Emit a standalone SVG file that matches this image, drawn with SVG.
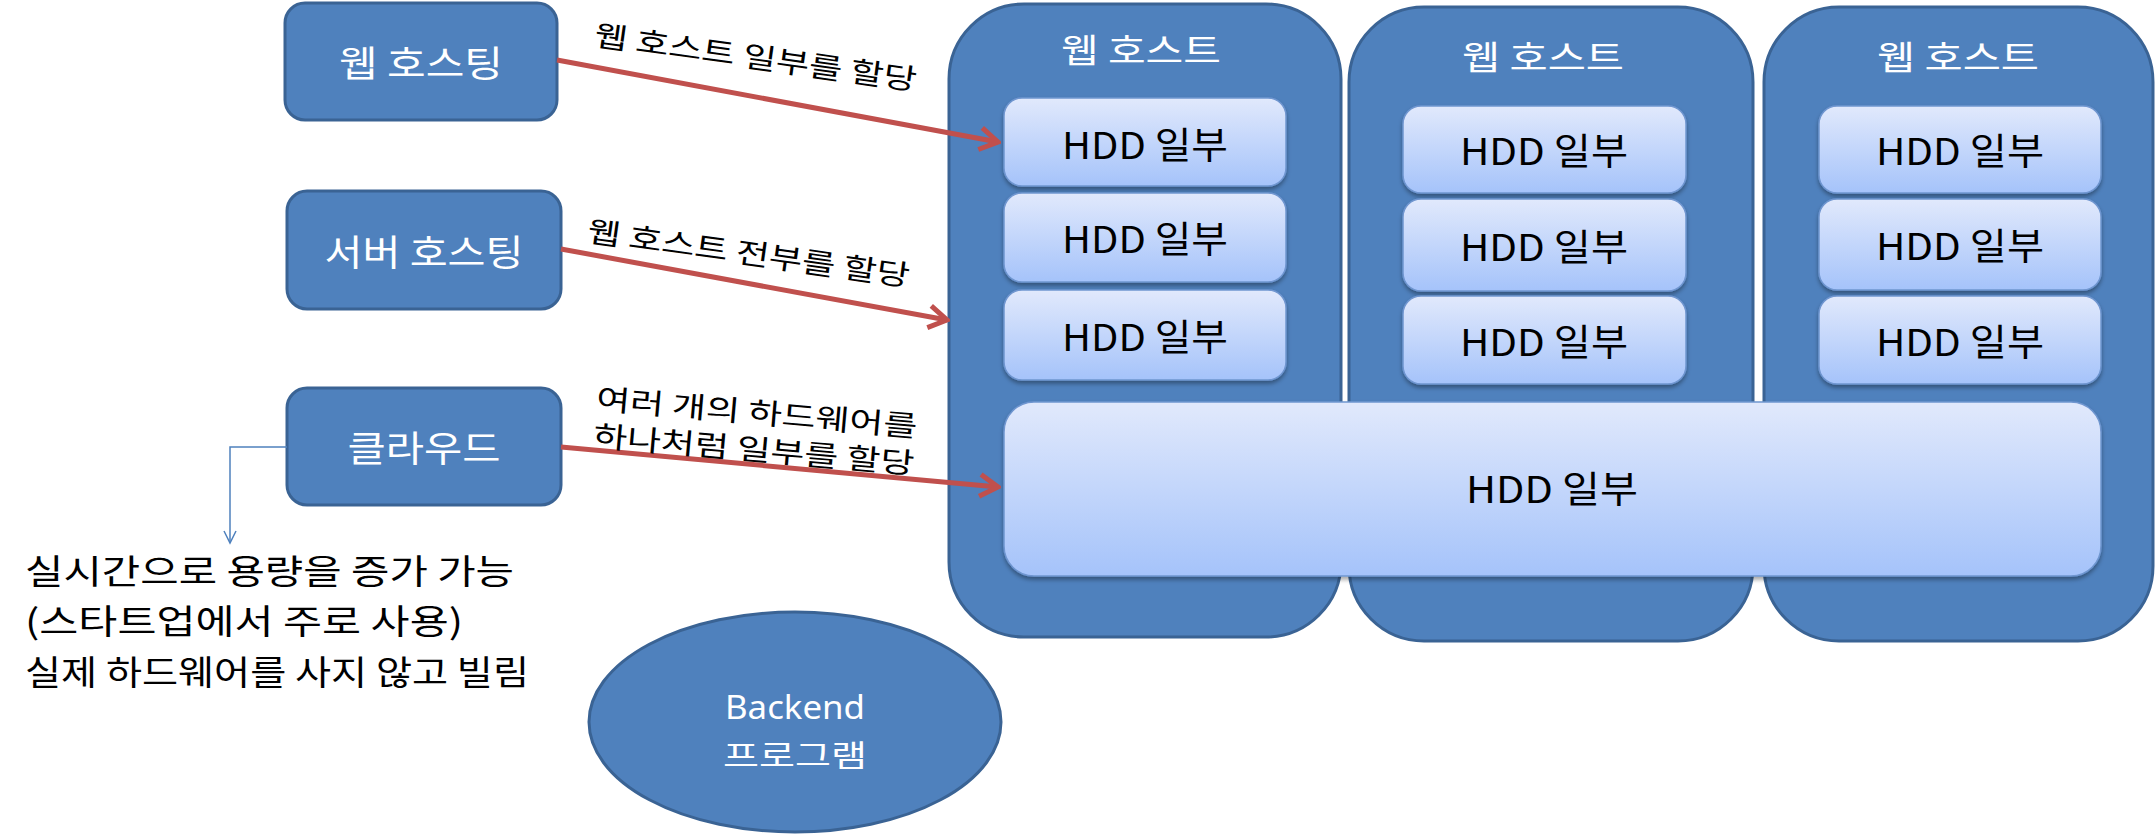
<svg xmlns="http://www.w3.org/2000/svg" width="2156" height="836" viewBox="0 0 2156 836">
<style>
.node{fill:#4F81BD;stroke:#3A6394;stroke-width:3}
.cont{fill:#4F81BD;stroke:#3A6394;stroke-width:3}
.hdd{fill:url(#g);stroke:#6F96D0;stroke-width:1.5}
.wt{fill:#fff;font-family:"Noto Sans CJK KR","Noto Sans",sans-serif;text-anchor:middle;dominant-baseline:central}
.bt{fill:#000;font-family:"Noto Sans CJK KR","Noto Sans",sans-serif;text-anchor:middle;dominant-baseline:central}
.ht{fill:#000;font-family:"Noto Sans CJK KR","Noto Sans",sans-serif;text-anchor:middle;dominant-baseline:central;font-size:37px}
.lt{fill:#000;font-family:"Noto Sans CJK KR","Noto Sans",sans-serif}
.red{stroke:#C0504D;stroke-width:5;fill:none}
</style>
<defs>
<linearGradient id="g" x1="0" y1="0" x2="0" y2="1">
<stop offset="0" stop-color="#E1E9FC"/>
<stop offset="1" stop-color="#A5C3FA"/>
</linearGradient>
<filter id="sh" x="-10%" y="-10%" width="120%" height="130%">
<feDropShadow dx="0" dy="3" stdDeviation="2" flood-color="#000" flood-opacity="0.35"/>
</filter>
<marker id="ra" markerUnits="userSpaceOnUse" markerWidth="30" markerHeight="30" viewBox="0 0 30 30" refX="27" refY="15" orient="auto">
<path d="M9,4 L27,15 L9,26" fill="none" stroke="#C0504D" stroke-width="5"/>
</marker>
<marker id="ba" markerUnits="userSpaceOnUse" markerWidth="16" markerHeight="16" viewBox="0 0 16 16" refX="14" refY="8" orient="auto">
<path d="M2,2 L14,8 L2,14" fill="none" stroke="#4F81BD" stroke-width="1.5"/>
</marker>
</defs>

<g id="host1">
<rect class="cont" x="949" y="4" width="392" height="633" rx="75"/>
<text class="wt" x="1141" y="48" font-size="34" textLength="160" lengthAdjust="spacingAndGlyphs">웹 호스트</text>
</g>
<g id="host2">
<rect class="cont" x="1349" y="7" width="404" height="634" rx="75"/>
<text class="wt" x="1543" y="55" font-size="34" textLength="162" lengthAdjust="spacingAndGlyphs">웹 호스트</text>
</g>
<g id="host3">
<rect class="cont" x="1764" y="7" width="389" height="634" rx="75"/>
<text class="wt" x="1958" y="55" font-size="34" textLength="162" lengthAdjust="spacingAndGlyphs">웹 호스트</text>
</g>

<g id="hdd1a"><rect class="hdd" filter="url(#sh)" x="1004" y="98" width="282" height="88" rx="18"/><text class="ht" x="1145" y="143" textLength="166" lengthAdjust="spacingAndGlyphs">HDD 일부</text></g>
<g id="hdd1b"><rect class="hdd" filter="url(#sh)" x="1004" y="193" width="282" height="89" rx="18"/><text class="ht" x="1145" y="237" textLength="166" lengthAdjust="spacingAndGlyphs">HDD 일부</text></g>
<g id="hdd1c"><rect class="hdd" filter="url(#sh)" x="1004" y="290" width="282" height="90" rx="18"/><text class="ht" x="1145" y="335" textLength="166" lengthAdjust="spacingAndGlyphs">HDD 일부</text></g>

<g id="hdd2a"><rect class="hdd" filter="url(#sh)" x="1403" y="106" width="283" height="87" rx="18"/><text class="ht" x="1544" y="149" textLength="168" lengthAdjust="spacingAndGlyphs">HDD 일부</text></g>
<g id="hdd2b"><rect class="hdd" filter="url(#sh)" x="1403" y="199" width="283" height="92" rx="18"/><text class="ht" x="1544" y="245" textLength="168" lengthAdjust="spacingAndGlyphs">HDD 일부</text></g>
<g id="hdd2c"><rect class="hdd" filter="url(#sh)" x="1403" y="296" width="283" height="88" rx="18"/><text class="ht" x="1544" y="340" textLength="168" lengthAdjust="spacingAndGlyphs">HDD 일부</text></g>

<g id="hdd3a"><rect class="hdd" filter="url(#sh)" x="1819" y="106" width="282" height="87" rx="18"/><text class="ht" x="1960" y="149" textLength="168" lengthAdjust="spacingAndGlyphs">HDD 일부</text></g>
<g id="hdd3b"><rect class="hdd" filter="url(#sh)" x="1819" y="199" width="282" height="91" rx="18"/><text class="ht" x="1960" y="244" textLength="168" lengthAdjust="spacingAndGlyphs">HDD 일부</text></g>
<g id="hdd3c"><rect class="hdd" filter="url(#sh)" x="1819" y="296" width="282" height="88" rx="18"/><text class="ht" x="1960" y="340" textLength="168" lengthAdjust="spacingAndGlyphs">HDD 일부</text></g>

<g id="hddbig"><rect class="hdd" filter="url(#sh)" x="1004" y="402" width="1097" height="174" rx="30"/><text class="ht" x="1552" y="487" textLength="172" lengthAdjust="spacingAndGlyphs">HDD 일부</text></g>

<g id="webhosting"><rect class="node" x="285" y="3" width="272" height="117" rx="20"/><text class="wt" x="421" y="61" font-size="36" textLength="164" lengthAdjust="spacingAndGlyphs">웹 호스팅</text></g>
<g id="serverhosting"><rect class="node" x="287" y="191" width="274" height="118" rx="20"/><text class="wt" x="424" y="250" font-size="36" textLength="199" lengthAdjust="spacingAndGlyphs">서버 호스팅</text></g>
<g id="cloud"><rect class="node" x="287" y="388" width="274" height="117" rx="20"/><text class="wt" x="424" y="446" font-size="36" textLength="153" lengthAdjust="spacingAndGlyphs">클라우드</text></g>

<g id="backend"><ellipse class="node" cx="795" cy="722" rx="206" ry="110"/>
<text class="wt" x="795" y="706" font-size="32" font-family="'Noto Sans',sans-serif" textLength="140" lengthAdjust="spacingAndGlyphs" style="font-family:'Noto Sans',sans-serif">Backend</text>
<text class="wt" x="795" y="753" font-size="30" textLength="144" lengthAdjust="spacingAndGlyphs">프로그램</text></g>

<g id="note">
<text class="lt" x="25" y="584" font-size="34" textLength="489" lengthAdjust="spacingAndGlyphs">실시간으로 용량을 증가 가능</text>
<text class="lt" x="25" y="634" font-size="34" textLength="438" lengthAdjust="spacingAndGlyphs">(스타트업에서 주로 사용)</text>
<text class="lt" x="25" y="685" font-size="34" textLength="504" lengthAdjust="spacingAndGlyphs">실제 하드웨어를 사지 않고 빌림</text>
</g>

<g id="connectors">
<line class="red" x1="557" y1="60" x2="998" y2="142" marker-end="url(#ra)"/>
<line class="red" x1="561" y1="249" x2="947" y2="320" marker-end="url(#ra)"/>
<line class="red" x1="561" y1="447" x2="998" y2="487" marker-end="url(#ra)"/>
<polyline points="287,447 230,447 230,543" fill="none" stroke="#4F81BD" stroke-width="1.5" marker-end="url(#ba)"/>
<text class="bt" font-size="29" transform="translate(756,55) rotate(8)" textLength="325" lengthAdjust="spacingAndGlyphs">웹 호스트 일부를 할당</text>
<text class="bt" font-size="29" transform="translate(749,251) rotate(8)" textLength="325" lengthAdjust="spacingAndGlyphs">웹 호스트 전부를 할당</text>
<text class="bt" font-size="29" transform="translate(757,410) rotate(5)" textLength="322" lengthAdjust="spacingAndGlyphs">여러 개의 하드웨어를</text>
<text class="bt" font-size="29" transform="translate(754,447) rotate(5)" textLength="322" lengthAdjust="spacingAndGlyphs">하나처럼 일부를 할당</text>
</g>
</svg>
